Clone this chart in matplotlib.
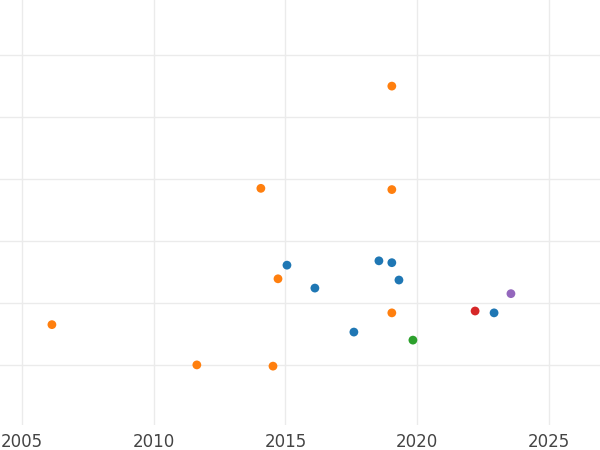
import matplotlib
matplotlib.use("Agg")
import matplotlib.pyplot as plt

years = [2019.04, 2014.07, 2019.04, 2015.06, 2018.55, 2019.04, 2014.72, 2016.12, 2019.31,
         2023.56, 2022.2, 2022.92, 2019.04, 2006.14, 2017.6, 2019.84, 2011.64, 2014.53]
values = [5.5, 3.85, 3.83, 2.61, 2.68, 2.65, 2.39, 2.24, 2.37,
          2.15, 1.87, 1.84, 1.84, 1.65, 1.53, 1.40, 1.0, 0.98]
groups = ["o", "o", "o", "b", "b", "b", "o", "b", "b",
          "p", "r", "b", "o", "o", "b", "g", "o", "o"]
palette = {"b": "#1f77b4", "o": "#ff7f0e", "g": "#2ca02c", "r": "#d62728", "p": "#9467bd"}

fig = plt.figure(figsize=(6, 4.5), dpi=100)
ax = fig.add_axes([0, 25/450, 1, 425/450])
ax.scatter(years, values, c=[palette[g] for g in groups], s=40, zorder=3, edgecolors="none")
ax.set_xlim(2004.17, 2026.94)
ax.set_ylim(0.03, 6.89)
ax.set_xticks([2005, 2010, 2015, 2020, 2025])
ax.set_yticks([1, 2, 3, 4, 5, 6])
ax.set_yticklabels([])
ax.tick_params(axis="y", length=0)
ax.tick_params(axis="x", length=0, labelsize=12, labelcolor="#444444", pad=6)
ax.grid(True, color="#ebebeb", linewidth=1)
ax.set_axisbelow(True)
for s in ax.spines.values():
    s.set_visible(False)
fig.savefig("out.png", dpi=100)
